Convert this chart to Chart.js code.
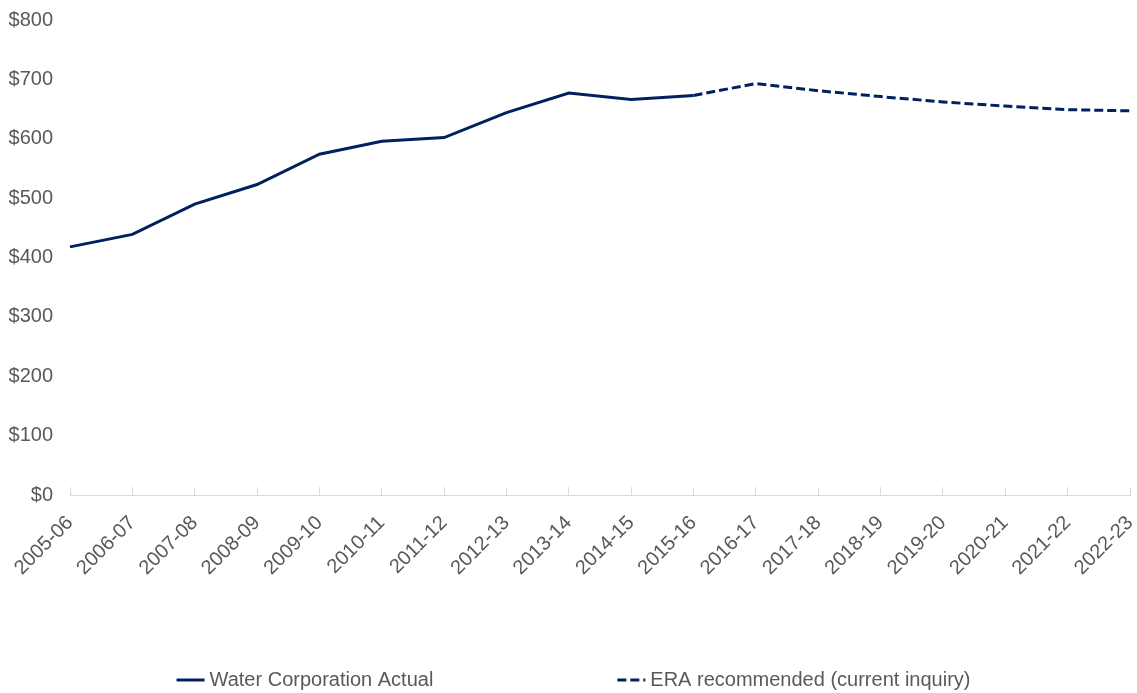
<!DOCTYPE html>
<html>
<head>
<meta charset="utf-8">
<script src="https://cdn.jsdelivr.net/npm/chart.js@4"></script>
<style>
  html, body { margin: 0; padding: 0; background: #fff; }
  #wrap { width: 1137px; height: 693px; }
</style>
</head>
<body>
<div id="wrap"><canvas id="bill"></canvas></div>
<script>
const years = ['2005-06', '2006-07', '2007-08', '2008-09', '2009-10', '2010-11', '2011-12', '2012-13', '2013-14',
  '2014-15', '2015-16', '2016-17', '2017-18', '2018-19', '2019-20', '2020-21', '2021-22', '2022-23'];
const actualBill = [418, 439, 490, 523, 574, 596, 602, 644, 677, 666, 673,
  null, null, null, null, null, null, null];
const eraBill = [null, null, null, null, null, null, null, null, null, null, 673,
  693, 681, 671, 662, 655, 649, 647];
const yTicks = [0, 100, 200, 300, 400, 500, 600, 700, 800];

const navy = '#002060';
const grey = '#595959';
const fontFamily = "'Liberation Sans Narrow', 'Arial Narrow', 'Liberation Sans', Arial, sans-serif";

// legend row under the chart, two items spread apart
const legendRow = {
  id: 'legendRow',
  afterDraw(chart) {
    const ctx = chart.ctx;
    const gap = 184;
    const lineLen = 28;
    ctx.save();
    ctx.font = '20px ' + fontFamily;
    const items = chart.data.datasets.map(ds => ({
      ds: ds,
      w: lineLen + 5 + ctx.measureText(ds.label).width
    }));
    const total = items.reduce((s, it) => s + it.w, 0) + gap * (items.length - 1);
    let x = chart.width / 2 + 5 - total / 2;
    const y = 680;
    items.forEach(it => {
      ctx.beginPath();
      ctx.setLineDash(it.ds.borderDash || []);
      ctx.lineWidth = 3;
      ctx.strokeStyle = it.ds.borderColor;
      ctx.moveTo(x, y);
      ctx.lineTo(x + lineLen, y);
      ctx.stroke();
      ctx.setLineDash([]);
      ctx.fillStyle = grey;
      ctx.textBaseline = 'middle';
      ctx.fillText(it.ds.label, x + lineLen + 5, y);
      x += it.w + gap;
    });
    ctx.restore();
  }
};

new Chart(document.getElementById('bill'), {
  type: 'line',
  data: {
    labels: years,
    datasets: [{
      label: 'Water Corporation Actual',
      data: actualBill,
      borderColor: navy,
      borderWidth: 3,
      pointRadius: 0,
      tension: 0,
      spanGaps: false
    }, {
      label: 'ERA recommended (current inquiry)',
      data: eraBill,
      borderColor: navy,
      borderWidth: 3,
      borderDash: [9, 4],
      pointRadius: 0,
      tension: 0,
      spanGaps: false
    }]
  },
  plugins: [legendRow],
  options: {
    responsive: true,
    maintainAspectRatio: false,
    animation: false,
    layout: {
      padding: { top: 20, right: 7, bottom: 89, left: 9 }
    },
    plugins: {
      legend: { display: false },
      tooltip: { enabled: false }
    },
    scales: {
      x: {
        offset: false,
        afterFit: axis => {
          // rotated labels may hang past the plot edges
          axis.paddingLeft = 0;
          axis.paddingRight = 0;
        },
        grid: {
          drawOnChartArea: false,
          drawTicks: true,
          tickLength: -8,
          color: '#d9d9d9'
        },
        border: { display: true, color: '#d9d9d9', width: 1 },
        ticks: {
          autoSkip: false,
          minRotation: 45,
          maxRotation: 45,
          padding: 24,
          color: grey,
          font: { family: fontFamily, size: 20 }
        }
      },
      y: {
        min: 0,
        max: 800,
        afterBuildTicks: axis => {
          axis.ticks = yTicks.map(v => ({ value: v }));
        },
        afterFit: axis => {
          axis.width = 61;
          axis.paddingTop = 0;
          axis.paddingBottom = 0;
        },
        grid: { display: false, drawTicks: false },
        border: { display: false },
        ticks: {
          padding: 17,
          color: grey,
          font: { family: fontFamily, size: 20 },
          callback: value => '$' + value
        }
      }
    }
  }
});
</script>
</body>
</html>
